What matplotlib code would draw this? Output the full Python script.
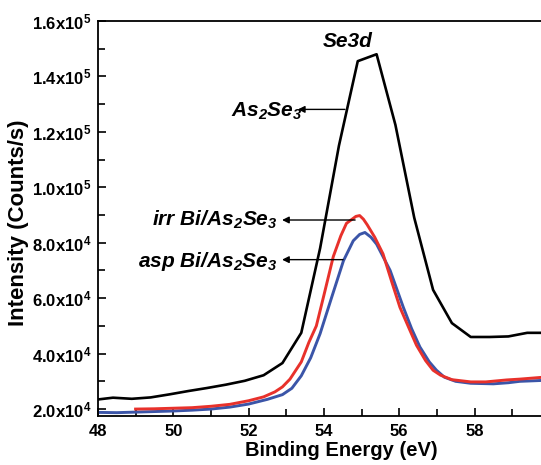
import matplotlib
matplotlib.use("Agg")
import matplotlib.pyplot as plt
from matplotlib.ticker import MultipleLocator, FixedLocator

plt.rcParams.update({
    "font.family": "Liberation Sans",
    "font.weight": "bold",
    "mathtext.fontset": "custom",
    "mathtext.rm": "Liberation Sans:bold:italic",
    "mathtext.it": "Liberation Sans:bold:italic",
    "mathtext.bf": "Liberation Sans:bold",
})

# black As2Se3 spectrum (coarse step)
e_black = [47.9, 48.4, 48.9, 49.4, 49.9, 50.4, 50.9, 51.4, 51.9, 52.4, 52.9, 53.4,
           53.9, 54.4, 54.9, 55.4, 55.9, 56.4, 56.9, 57.4, 57.9, 58.4, 58.9, 59.4, 59.9]
i_black = [2.33e4, 2.41e4, 2.37e4, 2.42e4, 2.53e4, 2.65e4, 2.76e4, 2.88e4, 3.02e4, 3.22e4,
           3.66e4, 4.75e4, 7.8e4, 1.15e5, 1.455e5, 1.48e5, 1.225e5, 8.9e4, 6.3e4, 5.1e4,
           4.6e4, 4.6e4, 4.62e4, 4.75e4, 4.75e4]

# irr Bi/As2Se3 (red)
e_irr = [49.0, 49.5, 50.0, 50.5, 51.0, 51.5, 52.0, 52.4, 52.7, 52.9, 53.1, 53.4, 53.6, 53.8,
         54.0, 54.25, 54.45, 54.6, 54.75, 54.85, 54.95, 55.05, 55.15, 55.35, 55.57, 55.8,
         56.02, 56.25, 56.46, 56.7, 56.9, 57.1, 57.4, 57.9, 58.3, 58.85, 59.2, 59.75]
i_irr = [2.00e4, 2.01e4, 2.03e4, 2.05e4, 2.10e4, 2.17e4, 2.30e4, 2.44e4, 2.62e4, 2.80e4,
         3.08e4, 3.70e4, 4.40e4, 5.0e4, 6.1e4, 7.5e4, 8.25e4, 8.7e4, 8.85e4, 8.95e4, 8.98e4,
         8.85e4, 8.65e4, 8.2e4, 7.6e4, 6.6e4, 5.67e4, 4.95e4, 4.3e4, 3.75e4, 3.4e4, 3.22e4,
         3.06e4, 2.98e4, 2.98e4, 3.05e4, 3.08e4, 3.14e4]

# asp Bi/As2Se3 (blue)
e_asp = [48.0, 48.5, 49.0, 49.5, 50.0, 50.5, 51.0, 51.5, 52.0, 52.5, 52.9, 53.15, 53.4,
         53.65, 53.9, 54.2, 54.52, 54.78, 54.95, 55.09, 55.25, 55.4, 55.76, 56.11, 56.33,
         56.55, 56.8, 56.99, 57.2, 57.5, 57.9, 58.5, 58.9, 59.2, 59.75]
i_asp = [1.88e4, 1.87e4, 1.89e4, 1.91e4, 1.93e4, 1.96e4, 2.0e4, 2.07e4, 2.18e4, 2.35e4,
         2.52e4, 2.75e4, 3.2e4, 3.85e4, 4.72e4, 6.0e4, 7.35e4, 8.07e4, 8.3e4, 8.37e4, 8.2e4,
         7.95e4, 7.0e4, 5.67e4, 4.9e4, 4.24e4, 3.7e4, 3.4e4, 3.15e4, 3.0e4, 2.93e4, 2.91e4,
         2.95e4, 3.0e4, 3.03e4]

y_ticks = [2e4, 4e4, 6e4, 8e4, 1e5, 1.2e5, 1.4e5, 1.6e5]
y_ticklabels = [r"2.0x10$^{\mathbf{4}}$", r"4.0x10$^{\mathbf{4}}$", r"6.0x10$^{\mathbf{4}}$",
                r"8.0x10$^{\mathbf{4}}$", r"1.0x10$^{\mathbf{5}}$", r"1.2x10$^{\mathbf{5}}$",
                r"1.4x10$^{\mathbf{5}}$", r"1.6x10$^{\mathbf{5}}$"]

fig = plt.figure(figsize=(5.41, 4.65), dpi=100)
ax = fig.add_axes([0.181, 0.1054, 0.8353, 0.8495])

ax.plot(e_black, i_black, color="black", lw=1.9)
ax.plot(e_asp, i_asp, color="#3b55a8", lw=2.1)
ax.plot(e_irr, i_irr, color="#e8312b", lw=2.1)

ax.set_xlim(48, 60)
ax.set_ylim(1.75e4, 1.6e5)
ax.xaxis.set_major_locator(FixedLocator([48, 50, 52, 54, 56, 58]))
ax.xaxis.set_minor_locator(MultipleLocator(1))
ax.yaxis.set_major_locator(FixedLocator(y_ticks))
ax.yaxis.set_minor_locator(MultipleLocator(1e4))
ax.set_yticklabels(y_ticklabels)
ax.tick_params(which="both", direction="in", width=1.2, top=False, right=False)
ax.tick_params(which="major", length=6)
ax.tick_params(which="minor", length=5)
ax.tick_params(axis="x", labelsize=12, pad=6)
ax.tick_params(axis="y", labelsize=12, pad=5)
for s in ax.spines.values():
    s.set_linewidth(1.3)

ax.set_xlabel("Binding Energy (eV)", fontsize=14.5, fontweight="bold")
ax.xaxis.set_label_coords(0.538, -0.063)
ax.set_ylabel("Intensity (Counts/s)", fontsize=16, fontweight="bold")
ax.yaxis.set_label_coords(-0.153, 0.488)

txt = dict(fontsize=15, fontweight="bold", style="italic")
ax.text(54.64, 1.507e5, "Se3d", ha="center", va="baseline", **txt)
ax.text(53.44, 1.256e5, r"As$_{2}$Se$_{3}$", ha="right", va="baseline", **txt)
ax.text(52.78, 8.63e4, r"irr Bi/As$_{2}$Se$_{3}$", ha="right", va="baseline", **txt)
ax.text(52.78, 7.11e4, r"asp Bi/As$_{2}$Se$_{3}$", ha="right", va="baseline", **txt)

arrow = dict(arrowstyle="-|>", color="black", lw=1.0, mutation_scale=10, shrinkA=0, shrinkB=0)
ax.annotate("", xy=(53.31, 1.281e5), xytext=(54.56, 1.281e5), arrowprops=arrow)
ax.annotate("", xy=(52.89, 8.82e4), xytext=(54.83, 8.82e4), arrowprops=arrow)
ax.annotate("", xy=(52.89, 7.39e4), xytext=(54.51, 7.39e4), arrowprops=arrow)

fig.savefig("out.png", dpi=100)
